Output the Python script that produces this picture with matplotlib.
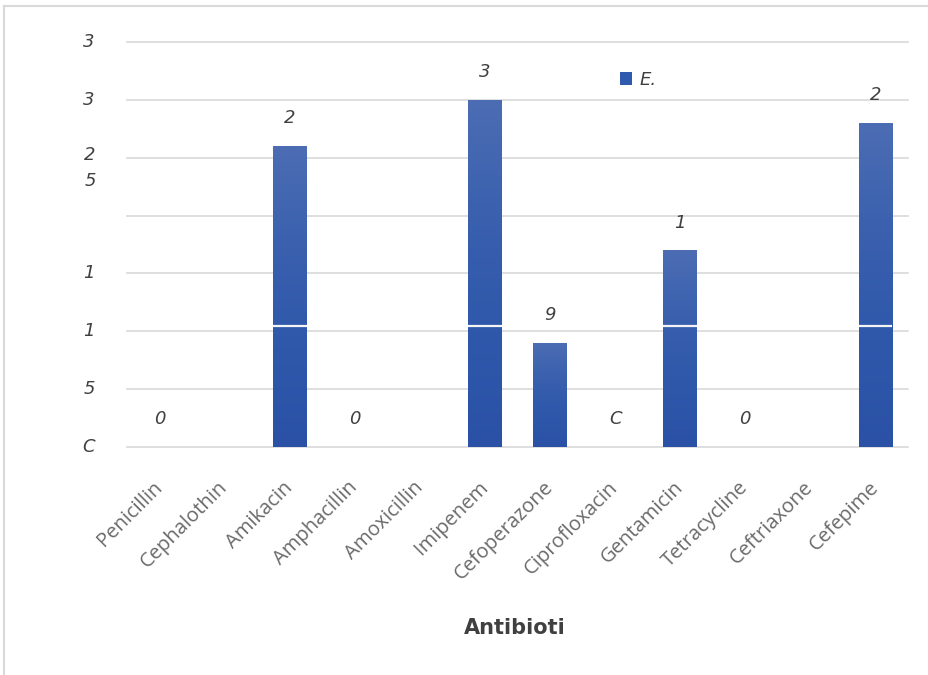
import numpy as np
import matplotlib.pyplot as plt
from matplotlib.colors import LinearSegmentedColormap
from matplotlib.patches import Patch
from matplotlib.lines import Line2D
from matplotlib.transforms import ScaledTranslation

# Data
antibiotics = ["Penicillin", "Cephalothin", "Amikacin", "Amphacillin", "Amoxicillin",
               "Imipenem", "Cefoperazone", "Ciprofloxacin", "Gentamicin",
               "Tetracycline", "Ceftriaxone", "Cefepime"]
counts = [0, 0, 26, 0, 0, 30, 9, 0, 17, 0, 0, 28]
value_labels = ["0", "", "2", "0", "", "3", "9", "C", "1", "0", "", "2"]
y_ticks = [0, 5, 10, 15, 20, 25, 30, 35]
y_tick_labels = ["C", "5", "1", "1", "", "2\n5", "3", "3"]
series_name = "E."
axis_title = "Antibioti"

W, H = 929, 675
fig = plt.figure(figsize=(W / 100, H / 100), dpi=100)
fig.patch.set_facecolor("white")

left, right, bottom, top = 127, 908, 447, 42
ax = fig.add_axes([left / W, 1 - bottom / H, (right - left) / W, (bottom - top) / H])

hand = dict(family="DejaVu Sans", style="italic", color="#404040")
bar_color = "#2f5aad"
cmap = LinearSegmentedColormap.from_list("bar", ["#2a51a5", "#2f58ab", "#3a60ae", "#4c6db4"])

x = np.arange(len(antibiotics))
bars = ax.bar(x, counts, width=0.52, color=bar_color, zorder=2)

# vertical gradient fill for each bar
for b in bars:
    h = b.get_height()
    if h <= 0:
        continue
    grad = np.linspace(0, 1, 256).reshape(-1, 1)
    im = ax.imshow(grad, cmap=cmap, origin="lower", aspect="auto",
                   extent=[b.get_x(), b.get_x() + b.get_width(), 0, h], zorder=2.1)
    im.set_clip_path(b)
    # gridline at 10 shows through the bars as a light line
    if h > 10:
        ax.hlines(10.45, b.get_x(), b.get_x() + b.get_width(), colors="#f4f4f4",
                  lw=1.6, zorder=3)

ax.set_xlim(-0.5, len(antibiotics) - 0.5)
ax.set_ylim(0, 35)

# gridlines
ax.set_yticks(y_ticks)
ax.yaxis.grid(True, color="#d9d9d9", lw=1.2, zorder=0)
for gl in ax.get_ygridlines():
    gl.set_clip_on(False)
ax.set_axisbelow(True)
ax.tick_params(axis="y", length=0, labelleft=False)
for s in ax.spines.values():
    s.set_visible(False)

# y tick labels
ytr = ax.get_yaxis_transform()
for v, lab in zip(y_ticks, y_tick_labels):
    if not lab:
        continue
    if "\n" in lab:
        ax.text((90 - left) / (right - left), v + 1.0, lab, transform=ytr,
                ha="center", va="top", fontsize=13, linespacing=1.55, **hand)
    else:
        ax.text((89 - left) / (right - left), v, lab, transform=ytr,
                ha="center", va="center", fontsize=13, **hand)

# x tick labels
ax.set_xticks(x)
ax.set_xticklabels(antibiotics, rotation=45, ha="right", rotation_mode="anchor",
                   fontsize=14.5, color="#6a6a6a", family="Open Sans")
ax.tick_params(axis="x", length=0, pad=22)
shift = ScaledTranslation(-7 / 100, 0, fig.dpi_scale_trans)
for lbl in ax.get_xticklabels():
    lbl.set_transform(lbl.get_transform() + shift)

# value labels
for xi, v, lab in zip(x, counts, value_labels):
    if lab:
        ax.annotate(lab, (xi, v), xytext=(0, 20), textcoords="offset points",
                    ha="center", va="center", fontsize=13, **hand)

# legend
ax.legend(handles=[Patch(facecolor=bar_color, edgecolor="none")], labels=[series_name],
          loc="center", bbox_to_anchor=(638 / W, 1 - 80 / H), bbox_transform=fig.transFigure,
          frameon=False, handlelength=0.7, handleheight=0.7, handletextpad=0.4,
          prop=dict(family="DejaVu Sans", style="italic", size=13))
for t in ax.get_legend().get_texts():
    t.set_color("#404040")

# axis title
fig.text(515 / W, 1 - 628 / H, axis_title, ha="center", va="center", fontsize=15,
         fontweight="bold", color="#404040", family="DejaVu Sans")

# chart frame
fig.add_artist(Line2D([4.5 / W, 1], [1 - 6 / H, 1 - 6 / H], transform=fig.transFigure,
                      color="#d9d9d9", lw=1.5))
fig.add_artist(Line2D([4.5 / W, 4.5 / W], [0, 1 - 6 / H], transform=fig.transFigure,
                      color="#d9d9d9", lw=1.5))

fig.savefig("out.png", dpi=100)
